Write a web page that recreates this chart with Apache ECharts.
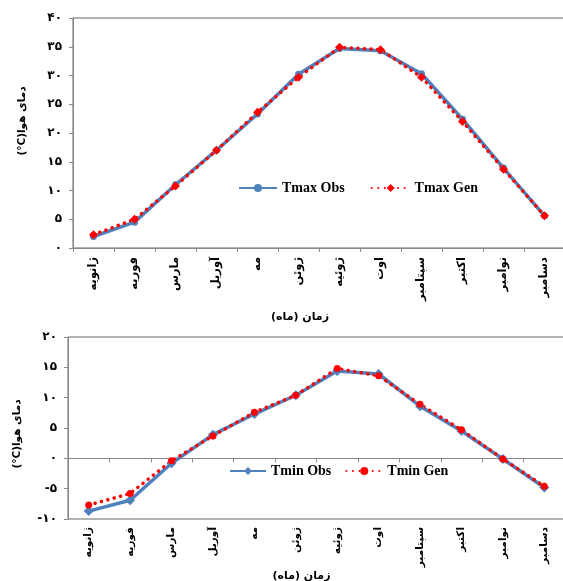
<!DOCTYPE html>
<html><head><meta charset="utf-8">
<script src="https://cdn.jsdelivr.net/npm/echarts@6/dist/echarts.min.js"></script>
<style>html,body{margin:0;padding:0;background:#fff}#c{width:563px;height:581px}</style>
</head><body><div id="c"></div>
<script>
var months = ['ژانویه','فوریه','مارس','آوریل','مه','ژوئن','ژوئیه','اوت','سپتامبر','اکتبر','نوامبر','دسامبر'];
var tmaxObs = [2.0, 4.5, 11.0, 17.0, 23.3, 30.2, 34.7, 34.3, 30.3, 22.4, 13.9, 5.6];
var tmaxGen = [2.3, 5.0, 10.8, 17.0, 23.6, 29.7, 34.9, 34.5, 29.7, 22.0, 13.7, 5.6];
var tminObs = [-8.7, -6.9, -0.8, 3.9, 7.3, 10.4, 14.4, 13.9, 8.6, 4.5, -0.1, -4.8];
var tminGen = [-7.7, -5.8, -0.4, 3.7, 7.6, 10.4, 14.8, 13.6, 8.9, 4.7, -0.1, -4.6];
var yLabelsTop = ['۰','۵','۱۰','۱۵','۲۰','۲۵','۳۰','۳۵','۴۰'];
var yLabelsBottom = ['-۱۰','-۵','۰','۵','۱۰','۱۵','۲۰'];
var yName = '(°C)دمای هوا';
var xName = 'زمان (ماه)';

var blue = '#4F81BD', red = '#FF0000';
var arFont = 'DejaVu Sans';
function xAxis(gi){
  return {type:'category', gridIndex:gi, data:months, boundaryGap:true,
    name:xName, nameLocation:'middle', nameGap: gi===0 ? 64 : 49,
    nameTextStyle:{fontFamily:arFont, fontWeight:'bold', fontSize:11, color:'#000', padding:[0, gi===0 ? 38 : 30, 0, 0]},
    axisLine:{lineStyle:{color:'#888', width:1}},
    axisTick:{show:true, length:4, lineStyle:{color:'#888'}},
    axisLabel:{interval:0, rotate:90, margin: gi===0 ? 9 : 8, fontFamily:arFont, fontWeight:'bold', fontSize: gi===0 ? 11.5 : 10.5, color:'#000'}};
}
function yAxis(gi, min, max, labels){
  return {type:'value', gridIndex:gi, min:min, max:max, interval:5,
    name:yName, nameLocation:'middle', nameRotate:90, nameGap: 45,
    nameTextStyle:{fontFamily:arFont, fontWeight:'bold', fontSize:10.5, color:'#000',
      padding: gi===0 ? [0,0,0,24] : [0,12,0,0]},
    splitLine:{show:false},
    axisLine:{show:true, lineStyle:{color:'#888'}},
    axisTick:{show:true, length:4, lineStyle:{color:'#888'}},
    axisLabel:{margin:11, fontFamily:arFont, fontWeight:'bold', fontSize:12, color:'#000',
      formatter:function(v){return labels[Math.round((v-min)/5)];}}};
}
var dotted = {color:red, width:3.5, type:[0.1,6.5], cap:'round'};
var option = {
  animation:false,
  backgroundColor:'#fff',
  grid:[
    {left:73, top:18, width:492, height:230, show:true, borderColor:'#666', borderWidth:1, backgroundColor:'transparent', containLabel:false, outerBoundsMode:'none'},
    {left:68, top:337, width:497, height:182, show:true, borderColor:'#666', borderWidth:1, backgroundColor:'transparent', containLabel:false, outerBoundsMode:'none'}
  ],
  xAxis:[xAxis(0), xAxis(1)],
  yAxis:[yAxis(0,0,40,yLabelsTop), yAxis(1,-10,20,yLabelsBottom)],
  legend:[
    {data:['Tmax Obs','Tmax Gen'], left:233, top:176, itemWidth:38, itemHeight:10, itemGap:26,
      textStyle:{fontFamily:'Liberation Serif', fontWeight:'bold', fontSize:14, color:'#000'}},
    {data:['Tmin Obs','Tmin Gen'], left:224, top:459, itemWidth:36, itemHeight:10, itemGap:14,
      textStyle:{fontFamily:'Liberation Serif', fontWeight:'bold', fontSize:14, color:'#000'}}
  ],
  series:[
    {name:'Tmax Obs', type:'line', xAxisIndex:0, yAxisIndex:0, data:tmaxObs,
      symbol:'circle', symbolSize:7, itemStyle:{color:blue}, lineStyle:{color:blue, width:3.5}},
    {name:'Tmax Gen', type:'line', xAxisIndex:0, yAxisIndex:0, data:tmaxGen,
      symbol:'diamond', symbolSize:9, itemStyle:{color:red}, lineStyle:dotted},
    {name:'Tmin Obs', type:'line', xAxisIndex:1, yAxisIndex:1, data:tminObs,
      symbol:'diamond', symbolSize:10, itemStyle:{color:blue}, lineStyle:{color:blue, width:3.5}},
    {name:'Tmin Gen', type:'line', xAxisIndex:1, yAxisIndex:1, data:tminGen,
      symbol:'circle', symbolSize:7, itemStyle:{color:red}, lineStyle:dotted}
  ]
};
var chart = echarts.init(document.getElementById('c'), null, {renderer:'canvas'});
chart.setOption(option);
</script></body></html>
